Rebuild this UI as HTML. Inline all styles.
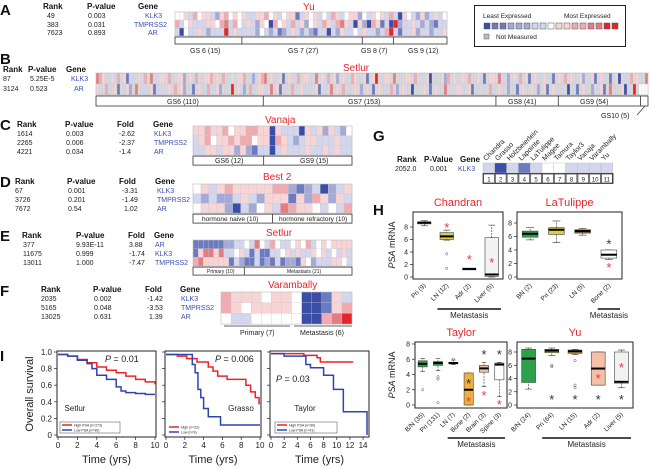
<!DOCTYPE html>
<html><head><meta charset="utf-8"><style>
body{margin:0;background:#fff}
svg{display:block;font-family:"Liberation Sans",sans-serif}
.t{font-size:7px;fill:#222}.h{font-size:8px;font-weight:bold;fill:#111}.g{font-size:7px;fill:#3a4fb0}
.L{font-size:15px;font-weight:bold;fill:#111}.red{fill:#e8242b}
</style></head><body>
<svg id="s" width="650" height="469" viewBox="0 0 650 469">
<!-- Panel A -->
<text class="L" x="0" y="15">A</text>
<g>
<text class="h" x="43" y="9">Rank</text><text class="h" x="87" y="9">P-value</text><text class="h" x="138" y="9">Gene</text>
<text class="t" x="47" y="18">49</text><text class="t" x="88" y="18">0.003</text><text class="g" x="145" y="18">KLK3</text>
<text class="t" x="47" y="27">383</text><text class="t" x="88" y="27">0.031</text><text class="g" x="134" y="27">TMPRSS2</text>
<text class="t" x="47" y="35">7623</text><text class="t" x="88" y="35">0.893</text><text class="g" x="148" y="35">AR</text></g>
<text class="red" x="303" y="10" font-size="10">Yu</text>
<g font-size="7" fill="#222">
<text x="190" y="53">GS 6 (15)</text><text x="288" y="53">GS 7 (27)</text><text x="361" y="53">GS 8 (7)</text><text x="408" y="53">GS 9 (12)</text></g>
<!-- Legend -->
<g>
<rect x="474.5" y="5.5" width="151" height="41" fill="#fff" stroke="#222" stroke-width="1"/>
<text x="483" y="18" font-size="6.5" fill="#222">Least Expressed</text><text x="564" y="18" font-size="6.5" fill="#222">Most Expressed</text>
<g id="legsq"></g>
<rect x="484" y="34" width="5" height="5" fill="#bbb" stroke="#666" stroke-width=".5"/>
<text x="496" y="39" font-size="6.5" fill="#222">Not Measured</text></g>
<!-- Panel B -->
<text class="L" x="0" y="64">B</text>
<g>
<text class="h" x="3" y="72">Rank</text><text class="h" x="28" y="72">P-value</text><text class="h" x="66" y="72">Gene</text>
<text class="t" x="3" y="81">87</text><text class="t" x="30" y="81">5.25E-5</text><text class="g" x="71" y="81">KLK3</text>
<text class="t" x="3" y="91">3124</text><text class="t" x="30" y="91">0.523</text><text class="g" x="74" y="91">AR</text></g>
<text class="red" x="343" y="71" font-size="10">Setlur</text>
<g font-size="7" fill="#222">
<text x="167" y="104">GS6 (110)</text><text x="348" y="104">GS7 (153)</text><text x="508" y="104">GS8 (41)</text><text x="580" y="104">GS9 (54)</text><text x="601" y="118">GS10 (5)</text>
<line x1="637" y1="115" x2="645" y2="106" stroke="#222" stroke-width=".6"/></g>
<!-- Panel C -->
<text class="L" x="0" y="130">C</text>
<g>
<text class="h" x="17" y="127">Rank</text><text class="h" x="65" y="127">P-value</text><text class="h" x="117" y="127">Fold</text><text class="h" x="153" y="127">Gene</text>
<text class="t" x="17" y="136">1614</text><text class="t" x="66" y="136">0.003</text><text class="t" x="119" y="136">-2.62</text><text class="g" x="154" y="136">KLK3</text>
<text class="t" x="17" y="145">2265</text><text class="t" x="66" y="145">0.006</text><text class="t" x="119" y="145">-2.37</text><text class="g" x="154" y="145">TMPRSS2</text>
<text class="t" x="17" y="154">4221</text><text class="t" x="66" y="154">0.034</text><text class="t" x="119" y="154">-1.4</text><text class="g" x="154" y="154">AR</text></g>
<text class="red" x="265" y="123" font-size="10">Vanaja</text>
<g font-size="7" fill="#222"><text x="215" y="163">GS6 (12)</text><text x="300" y="163">GS9 (15)</text></g>
<!-- Panel D -->
<text class="L" x="0" y="187">D</text>
<g>
<text class="h" x="15" y="184">Rank</text><text class="h" x="67" y="184">P-value</text><text class="h" x="119" y="184">Fold</text><text class="h" x="155" y="184">Gene</text>
<text class="t" x="15" y="193">67</text><text class="t" x="68" y="193">0.001</text><text class="t" x="122" y="193">-3.31</text><text class="g" x="157" y="193">KLK3</text>
<text class="t" x="15" y="202">3726</text><text class="t" x="68" y="202">0.201</text><text class="t" x="122" y="202">-1.49</text><text class="g" x="157" y="202">TMPRSS2</text>
<text class="t" x="15" y="211">7672</text><text class="t" x="68" y="211">0.54</text><text class="t" x="124" y="211">1.02</text><text class="g" x="157" y="211">AR</text></g>
<text class="red" x="263" y="180" font-size="10">Best 2</text>
<g font-size="6.5" fill="#222"><text x="202" y="221">hormone naive (10)</text><text x="279" y="221">hormone refractory (10)</text></g>
<!-- Panel E -->
<text class="L" x="0" y="241">E</text>
<g>
<text class="h" x="22" y="238">Rank</text><text class="h" x="76" y="238">P-value</text><text class="h" x="128" y="238">Fold</text><text class="h" x="154" y="238">Gene</text>
<text class="t" x="23" y="247">377</text><text class="t" x="76" y="247">9.93E-11</text><text class="t" x="129" y="247">3.88</text><text class="g" x="155" y="247">AR</text>
<text class="t" x="23" y="256">11675</text><text class="t" x="76" y="256">0.999</text><text class="t" x="129" y="256">-1.74</text><text class="g" x="155" y="256">KLK3</text>
<text class="t" x="23" y="265">13011</text><text class="t" x="76" y="265">1.000</text><text class="t" x="129" y="265">-7.47</text><text class="g" x="155" y="265">TMPRSS2</text></g>
<text class="red" x="266" y="236" font-size="10">Setlur</text>
<g font-size="5" fill="#222"><text x="207" y="273">Primary (10)</text><text x="287" y="273">Metastasis (21)</text></g>
<!-- Panel F -->
<text class="L" x="0" y="296">F</text>
<g>
<text class="h" x="41" y="292">Rank</text><text class="h" x="93" y="292">P-value</text><text class="h" x="145" y="292">Fold</text><text class="h" x="180" y="292">Gene</text>
<text class="t" x="41" y="301">2035</text><text class="t" x="94" y="301">0.002</text><text class="t" x="147" y="301">-1.42</text><text class="g" x="181" y="301">KLK3</text>
<text class="t" x="41" y="310">5165</text><text class="t" x="94" y="310">0.048</text><text class="t" x="147" y="310">-3.53</text><text class="g" x="181" y="310">TMPRSS2</text>
<text class="t" x="41" y="319">13025</text><text class="t" x="94" y="319">0.631</text><text class="t" x="149" y="319">1.39</text><text class="g" x="181" y="319">AR</text></g>
<text class="red" x="268" y="288" font-size="10">Varambally</text>
<g font-size="7" fill="#222"><text x="240" y="335">Primary (7)</text><text x="300" y="335">Metastasis (6)</text></g>
<line x1="224" y1="326" x2="290" y2="326" stroke="#999" stroke-width="1.5"/><line x1="294" y1="326" x2="352" y2="326" stroke="#999" stroke-width="1.5"/>
<!-- Panel G -->
<text class="L" x="373" y="141">G</text>
<g>
<text class="h" x="397" y="162" font-size="6.5">Rank</text><text class="h" x="424" y="162" font-size="6.5">P-Value</text><text class="h" x="460" y="162" font-size="6.5">Gene</text>
<text class="t" x="395" y="171">2052.0</text><text class="t" x="430" y="171">0.001</text><text class="g" x="458" y="171">KLK3</text></g>
<g id="gG"></g>
<!-- Panel H -->
<text class="L" x="373" y="215">H</text>
<g id="gH"></g>
<!-- Panel I -->
<text class="L" x="0" y="361">I</text>
<g id="gI"></g>
</svg>
<script>
const NS='http://www.w3.org/2000/svg';
const S=document.getElementById('s');
function mk(tag,a,p){const e=document.createElementNS(NS,tag);for(const k in a)e.setAttribute(k,a[k]);(p||S).appendChild(e);return e;}
function tx(x,y,s,a,p){const e=mk('text',Object.assign({x:x,y:y},a),p);e.textContent=s;return e;}
const COL={A:'#3a4ea8',B:'#6c7abf',C:'#a3aad8',D:'#d3d6ec','0':'#ffffff',a:'#f7d4d6',b:'#efabaf',c:'#e57c82',d:'#e0262c',g:'#d9d9d9'};

// ---------- heatmap data ----------
const heatA=[
"00aDb0aaDCab0a0aDDaab0aD0aaBDa0aD0DbaD0aaC0Da0aDbDAa0DCaCDaD0",
"bD0aDDDaa0bcDb0DaDCa0Ab0aDbDaC0aDbaDbcaDAaCAbaBDAdCDDaDCDCBDD",
"DA0DDaDCDDDdDaDDDDC0DCDBCDaDCDCBDDADCaDD0DaDDCDbdDBDDaCDDCDDa"];
const groupsA=[15,27,7,12];
const heatB=[
"cbaDgaDbgaBDDgaDbgcgDaagbDgaaCgaDbgDaabgagbDgaDaabgDCgabcgaDgaBgagDbgaaDgcgaDbgaCgaDgbaDgaBgadgDaagcgDgaaDbgDgaAgDgaCbgaDgagbDgaDBgaagcgDCgaDbgaBgaDgagDBgaDbgaDgaCDgaBgaDgBDaAgDgbgaDgc",
"aDgbDgaBgDaCgcgDDgaBDgDgaDbgaCgDBgaDgbDgaCgDgdgaDCgbDgaaDgcgaBgDgbDgaDgDgaBgDgcgaDbgDgaDCgaDBgagDgbDCgaDgAgDgaDBgaDgcgDgaaDgaBgDgDgbDgaDgCgDBgaDgaDCgaBgaDgDgAgDBgaDgCgDaBgcgDgaADgdg"];
const groupsB=[110,153,41,54,5];
const heatC=[
"aabaab0aabbaaAaDDDAaDaCaDC0",
"Dab0aababb0aaAbaDCDaaDDDaDD",
"DDaaDaaCaCBDDADaDDDaDDaDaDD"];
const groupsC=[12,15];
const heatD=[
"0aDabaaaaabbCBCDACDa",
"DCDCCDaDCaaaBaCbaCaD",
"0aaaCADC0aDcbaa0D0Db"];
const groupsD=[10,10];
const heatE=[
"BBBBBBCCDD0Dc0Db0DD0a0bD0a0aaaa",
"BaccacDD0aDBDBBDD0aDaDDa0aD0DaD",
"bcaaaaaBDCBBDBCBDBCCBa0CDDDaa0D"];
const groupsE=[10,21];
const heatF=[
"baaa0aa0AABaD",
"ba0aaaa0AABab",
"0DD00000AAbcd"];
const groupsF=[7,6];
const legendLevels=['A','B','B','C','C','C','D','D','0','a','a','b','b','c','c','d','d'];

function heat(id,x,y,w,rh,rows,groups,boxH){
  const g=mk('g',{});
  
  
  const n=rows[0].length,cw=w/n;
  rows.forEach((r,i)=>{for(let j=0;j<n;j++){
    const c=mk('rect',{x:x+j*cw,y:y+i*rh,width:cw+.05,height:rh,fill:COL[r[j]]||'#fff',stroke:cw>2.5?'#c8c8c8':'none','stroke-width':.3},g);
    
    }});
  mk('rect',{x:x,y:y,width:w,height:rows.length*rh,fill:'none',stroke:'#bbb','stroke-width':.5},g);
  if(boxH){const by=y+rows.length*rh+1;
    const b=mk('rect',{x:x,y:by,width:w,height:boxH,fill:'none',stroke:'#333','stroke-width':.8},g);
    
    
    const tot=groups.reduce((s,k)=>s+k,0);
    let acc=0;groups.forEach((k,i)=>{acc+=k;if(i<groups.length-1){const xx=x+acc/tot*w;mk('line',{x1:xx,y1:by,x2:xx,y2:by+boxH,stroke:'#333','stroke-width':.8},g);}});}
}
heat('panel-a',175,12,272,8,heatA,groupsA,7);
heat('panel-b',96,73,552,11,heatB,groupsB,10);
heat('panel-c',193,126,159,9.7,heatC,groupsC,9);
heat('panel-d',193,184,159,9.7,heatD,groupsD,9);
heat('panel-e',193,240,159,8.7,heatE,groupsE,8);
heat('panel-f',221,292,131,10.7,heatF,groupsF,0);
const lg=document.getElementById('legsq');
legendLevels.forEach((l,i)=>{const r=mk('rect',{x:484+i*8,y:23,width:6,height:6,fill:COL[l],stroke:'#555','stroke-width':.5},lg);
  
  });

// ---------- Panel G ----------
const gNames=['Chandra','Grasso','Holzbeierlein','Lapointe','LaTulippe','Magee','Tamura','Taylor3','Vanaja','Varambally','Yu'];
const gLevels=['D','A','D','B','D','0','0','D','D','D','D'];
const GG=document.getElementById('gG');
gNames.forEach((n,i)=>{const x=483+i*11.8;
  const c=mk('rect',{x:x,y:163,width:11.8,height:10,fill:COL[gLevels[i]],stroke:'#bbb','stroke-width':.4},GG);
  
  
  const b=mk('rect',{x:x+.5,y:174,width:10.8,height:9,fill:'#fff',stroke:'#333','stroke-width':.7},GG);
  
  
  tx(x+5.9,181.5,String(i+1),{'font-size':6,'text-anchor':'middle',fill:'#222'},GG);
  tx(x+3,161,n,{'font-size':7,fill:'#222',transform:`rotate(-45 ${x+3} 161)`},GG);});
mk('rect',{x:483,y:173.5,width:130,height:10,fill:'none',stroke:'#333','stroke-width':.8},GG);

// ---------- Panel H box plots ----------
const chandranCats=['Pri (9)','LN (12)','Adr (2)','Liver (5)'];
const chandranStats=[[8.2,8.5,8.7,8.8,9.0],[5.9,6.0,6.5,7.1,7.5],[1.3,1.3,1.3,1.3,1.3],[0,0.1,0.4,6.3,8.3]];
const chandranOut=[[],[3.7,1.4],[],[]];
const chandranStar=[null,[8.0,'r'],[2.9,'r'],[2.4,'r']];
const latulippeCats=['BN (2)','Pri (23)','LN (5)','Bone (2)'];
const latulippeStats=[[5.5,5.9,6.4,6.8,7.3],[5.1,6.3,7.0,7.3,8.3],[6.2,6.5,6.8,7.0,7.2],[2.6,2.8,3.3,4.0,4.0]];
const latulippeOut=[[],[],[],[]];
const latulippeStar=[null,null,null,[5.0,'k',1.5]];
const taylorCats=['B/N (35)','Pri (131)','LN (7)','Bone (2)','Brain (3)','Spine (3)'];
const taylorStats=[[4.4,5.0,5.4,5.8,6.1],[4.5,5.2,5.5,5.7,6.1],[5.3,5.4,5.5,5.6,5.9],[0,0,2.0,4.2,4.2],[2.4,4.3,4.8,5.2,5.6],[1.1,3.3,5.3,5.5,5.6]];
const taylorOut=[[2.0],[3.7,3.4,0.3],[6.0],[],[],[]];
const taylorStar=[null,null,null,[2.9,'k',0.5],[6.7,'k',1.3],[6.7,'k',0.1]];
const yuCats=['B/N (24)','Pri (64)','LN (15)','Adr (2)','Liver (5)'];
const yuStats=[[2.4,3.4,7.0,8.4,8.6],[7.5,7.9,8.2,8.4,8.6],[7.6,7.8,8.1,8.3,8.4],[3.0,3.0,5.5,8.0,8.0],[2.6,3.3,3.5,8.0,8.3]];
const yuOut=[[],[6.0,5.8],[6.7,3.0,2.6],[],[]];
const yuStar=[null,[0.9,'k'],[0.9,'k'],[0.9,'k',4.1],[0.9,'k',5.7]];
const fills={Chandran:['#eeeeee','#d8d040','#888','#f2f2f2'],LaTulippe:['#2ba24a','#d8d040','#8a6a3a','#fff'],Taylor:['#2ba24a','#2ba24a','#2ba24a','#f0b040','#f4c0a8','#fff'],Yu:['#2ba24a','#d8d040','#c8a040','#f4c0a8','#f2f2f2']};
const H=document.getElementById('gH');
function boxplot(name,x0,x1,yT,yB,y0,y8,cats,stats,outs,stars,fl,metaFrom,metaY,labels){
  const g=mk('g',{},H);
  
  
  const sy=v=>y0+(y8-y0)*v/8;
  tx((x0+x1)/2,yT-6,name,{'font-size':11,'text-anchor':'middle',fill:'#e8242b'},g);
  mk('rect',{x:x0,y:yT,width:x1-x0,height:yB-yT,fill:'none',stroke:'#222','stroke-width':1},g);
  [0,2,4,6,8].forEach(v=>{mk('line',{x1:x0-3,x2:x0,y1:sy(v),y2:sy(v),stroke:'#222','stroke-width':.7},g);
    if(labels)tx(x0-5,sy(v)+2.5,String(v),{'font-size':7,'text-anchor':'end',fill:'#222'},g);});
  const n=cats.length,bw=(x1-x0)/n;
  cats.forEach((c,i)=>{const cx=x0+bw*(i+.5),s=stats[i],hw=bw*.3;
    mk('line',{x1:cx,x2:cx,y1:sy(s[0]),y2:sy(s[4]),stroke:'#333','stroke-width':.6,'stroke-dasharray':'2,1'},g);
    mk('line',{x1:cx-hw/2,x2:cx+hw/2,y1:sy(s[4]),y2:sy(s[4]),stroke:'#333','stroke-width':.6},g);
    mk('line',{x1:cx-hw/2,x2:cx+hw/2,y1:sy(s[0]),y2:sy(s[0]),stroke:'#333','stroke-width':.6},g);
    const b=mk('rect',{x:cx-hw,y:sy(s[3]),width:hw*2,height:Math.max(sy(s[1])-sy(s[3]),1),fill:fl[i],stroke:'#444','stroke-width':.6},g);
    
    
    mk('line',{x1:cx-hw,x2:cx+hw,y1:sy(s[2]),y2:sy(s[2]),stroke:'#000','stroke-width':2},g);
    (outs[i]||[]).forEach(o=>mk('circle',{cx:cx,cy:sy(o),r:1.2,fill:'none',stroke:'#555','stroke-width':.5},g));
    const st=stars[i];
    if(st){tx(cx,sy(st[0])+5,'*',{'font-size':13,'text-anchor':'middle',fill:st[1]=='r'?'#ee3344':'#333'},g);
      if(st[2]!==undefined)tx(cx,sy(st[2])+5,'*',{'font-size':13,'text-anchor':'middle',fill:'#ee3344'},g);}
    tx(cx+2,yB+7,c,{'font-size':6.5,'text-anchor':'end',fill:'#222',transform:`rotate(-45 ${cx+2} ${yB+7})`},g);});
  const mx0=x0+bw*metaFrom+2,mx1=x1-2;
  mk('line',{x1:mx0,x2:mx1,y1:metaY,y2:metaY,stroke:'#111','stroke-width':1.6},g);
  tx((mx0+mx1)/2,metaY+9,'Metastasis',{'font-size':8,'text-anchor':'middle',fill:'#222'},g);
}
boxplot('Chandran',413,503,212,279,277,227,chandranCats,chandranStats,chandranOut,chandranStar,fills.Chandran,1,309,true);
boxplot('LaTulippe',517,622,212,279,277,223,latulippeCats,latulippeStats,latulippeOut,latulippeStar,fills.LaTulippe,3,309,true);
boxplot('Taylor',415,507,342,408,405,344,taylorCats,taylorStats,taylorOut,taylorStar,fills.Taylor,2,438,true);
boxplot('Yu',517,633,342,408,405,352,yuCats,yuStats,yuOut,yuStar,fills.Yu,1,438,true);
[[395,245],[395,375]].forEach(p=>{const t=tx(p[0],p[1],'',{'font-size':9,'text-anchor':'middle',fill:'#222',transform:`rotate(-90 ${p[0]} ${p[1]})`},H);
  t.innerHTML='<tspan font-style="italic">PSA</tspan> mRNA';});

// ---------- Panel I survival ----------
const setlurHigh=[[0,0.97],[1,0.95],[2,0.91],[3,0.87],[4,0.82],[5,0.78],[6,0.75],[7,0.71],[8,0.67],[9,0.64],[10,0.61]];
const setlurLow=[[0,0.97],[1,0.95],[2,0.9],[3,0.86],[3.5,0.8],[4,0.72],[5,0.67],[6,0.58],[6.5,0.53],[7,0.51],[8,0.5],[9,0.49],[10,0.49]];
const grassoHigh=[[0,0.97],[1.2,0.95],[2.2,0.92],[3.3,0.88],[4.5,0.82],[5,0.77],[5.5,0.71],[6.5,0.67],[8.5,0.6],[9,0.52],[9.5,0.45],[9.9,0.38],[10,0.38]];
const grassoLow=[[0,0.97],[2.5,0.97],[2.8,0.85],[3.1,0.75],[3.4,0.55],[3.7,0.45],[4,0.32],[4.5,0.22],[5.8,0.12],[10,0.12]];
const taylorHigh=[[0,0.98],[4.8,0.98],[5,0.96],[7,0.93],[7.5,0.88],[12.5,0.88]];
const taylorLow=[[0,0.98],[2,0.95],[5,0.95],[5.3,0.85],[6,0.81],[8,0.72],[9.5,0.55],[11,0.28],[14.6,0.28],[14.6,0]];
const I=document.getElementById('gI');
function surv(name,x0,x1,xMax,xTicks,hi,lo,yLabels,pText,px,py,nx,ny,leg,legBox){
  const g=mk('g',{},I);
  
  
  const yT=351,yB=437,sy=v=>435-v*83,sx=t=>x0+1+(t/xMax)*(x1-x0-2);
  mk('rect',{x:x0,y:yT,width:x1-x0,height:yB-yT,fill:'none',stroke:'#222','stroke-width':1},g);
  [0,0.2,0.4,0.6,0.8,1.0].forEach(v=>{mk('line',{x1:x0-3,x2:x0,y1:sy(v),y2:sy(v),stroke:'#222','stroke-width':.7},g);
    if(yLabels)tx(x0-5,sy(v)+3,v==0?'0':v.toFixed(1),{'font-size':8,'text-anchor':'end',fill:'#222'},g);});
  xTicks.forEach(t=>{mk('line',{x1:sx(t),x2:sx(t),y1:yB,y2:yB+3,stroke:'#222','stroke-width':.7},g);
    tx(sx(t),yB+11,String(t),{'font-size':8,'text-anchor':'middle',fill:'#222'},g);});
  tx((x0+x1)/2,yB+26,'Time (yrs)',{'font-size':11,'text-anchor':'middle',fill:'#222'},g);
  function step(d,col,nm){let p='M'+sx(d[0][0])+','+sy(d[0][1]);
    for(let i=1;i<d.length;i++)p+='H'+sx(d[i][0])+'V'+sy(d[i][1]);
    const e=mk('path',{d:p,fill:'none',stroke:col,'stroke-width':1.5},g);
    
    }
  step(hi,'#e8242b','high-psa-curve');step(lo,'#2e45b0','low-psa-curve');
  const pt=tx(px,py,'',{'font-size':9,fill:'#222'},g);pt.innerHTML='<tspan font-style="italic">P</tspan> = '+pText;
  tx(nx,ny,name,{'font-size':8,'text-anchor':'middle',fill:'#222'},g);
  const lx=leg[0],ly=leg[1];
  if(legBox)mk('rect',{x:lx-2,y:ly-3,width:legBox,height:11,fill:'#fff',stroke:'#444','stroke-width':.5},g);
  mk('line',{x1:lx,x2:lx+10,y1:ly,y2:ly,stroke:'#e8242b','stroke-width':1.5},g);
  mk('line',{x1:lx,x2:lx+10,y1:ly+5,y2:ly+5,stroke:'#2e45b0','stroke-width':1.5},g);
  tx(lx+12,ly+1.5,leg[2],{'font-size':3.5,fill:'#222'},g);tx(lx+12,ly+6.5,leg[3],{'font-size':3.5,fill:'#222'},g);
}
surv('Setlur',57,156,10,[0,2,4,6,8,10],setlurHigh,setlurLow,true,'0.01',105,362,75,411,[62,425,'High PSA (n=273)','Low PSA (n=90)'],60);
surv('Grasso',165,261,10,[0,2,4,6,8,10],grassoHigh,grassoLow,false,'0.006',215,362,241,411,[169,427,'High (n=22)','Low (n=9)'],0);
surv('Taylor',270,369,14.75,[0,2,4,6,8,10,12,14],taylorHigh,taylorLow,false,'0.03',276,382,305,411,[277,425,'High PSA (n=99)','Low PSA (n=41)'],62);
const yl=tx(33,394,'Overall survival',{'font-size':11,'text-anchor':'middle',fill:'#222',transform:'rotate(-90 33 394)'},I);


</script>
</body></html>
